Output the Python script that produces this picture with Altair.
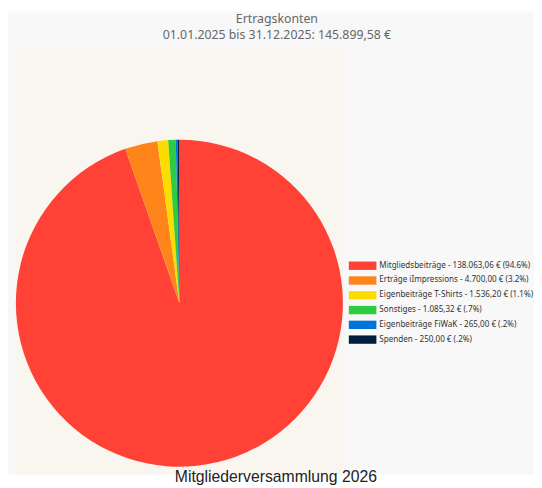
import altair as alt
import pandas as pd

# ---- data ----
categories = ["Mitgliedsbeiträge", "Erträge iImpressions", "Eigenbeiträge T-Shirts",
              "Sonstiges", "Eigenbeiträge FiWaK", "Spenden"]
amounts = [138063.06, 4700.00, 1536.20, 1085.32, 265.00, 250.00]
amount_labels = ["138.063,06 €", "4.700,00 €", "1.536,20 €", "1.085,32 €", "265,00 €", "250,00 €"]
percent_labels = ["(94.6%)", "(3.2%)", "(1.1%)", "(.7%)", "(.2%)", "(.2%)"]
colors = ["#FF4136", "#FF851B", "#FFDC00", "#2ECC40", "#0074D9", "#001F3F"]

title_text = "Ertragskonten"
subtitle_text = "01.01.2025 bis 31.12.2025: 145.899,58 €"
footer_text = "Mitgliederversammlung 2026"

legend_labels = [f"{c} - {a} {p}" for c, a, p in zip(categories, amount_labels, percent_labels)]

df = pd.DataFrame({
    "label": legend_labels,
    "value": amounts,
    "idx": list(range(len(categories))),
})
one = pd.DataFrame({"a": [0]})

W, H = 534, 480

color_scale = alt.Scale(domain=legend_labels, range=colors)
legend_y = alt.Y("idx:Q", scale=alt.Scale(domain=[0, 5], range=[258, 333]), axis=None)

bg_gray = alt.Chart(one).mark_rect(fill="#f8f8f8").encode(
    x=alt.value(0), x2=alt.value(W), y=alt.value(0), y2=alt.value(470))
bg_cream = alt.Chart(one).mark_rect(fill="#f9f6ef").encode(
    x=alt.value(7), x2=alt.value(340), y=alt.value(37), y2=alt.value(470))

pie = alt.Chart(df).mark_arc(outerRadius=166).encode(
    theta=alt.Theta("value:Q", stack=True),
    order=alt.Order("idx:Q", sort="ascending"),
    color=alt.Color("label:N", scale=color_scale, legend=None),
    x=alt.value(174), y=alt.value(296),
)

legend_sym = alt.Chart(df).mark_point(
    shape="M-1,-0.3036H1V0.3036H-1Z", size=784, filled=True, opacity=1, strokeWidth=0
).encode(
    x=alt.value(360), y=legend_y,
    color=alt.Color("label:N", scale=color_scale, legend=None),
)
legend_txt = alt.Chart(df).mark_text(
    font="Noto Sans", fontSize=8.2, color="#333333", align="left", baseline="middle"
).encode(
    x=alt.value(377), y=legend_y, text="label:N",
)

title = alt.Chart(one).mark_text(font="Noto Sans", fontSize=12.5, color="#666666",
                                 align="center", baseline="alphabetic").encode(
    x=alt.value(273), y=alt.value(12), text=alt.value(title_text))
subtitle = alt.Chart(one).mark_text(font="Noto Sans", fontSize=12.5, color="#666666",
                                    align="center", baseline="alphabetic").encode(
    x=alt.value(273), y=alt.value(28), text=alt.value(subtitle_text))
footer = alt.Chart(one).mark_text(font="Liberation Sans", fontSize=16, color="#222222",
                                  align="center", baseline="alphabetic").encode(
    x=alt.value(272), y=alt.value(478), text=alt.value(footer_text))

chart = alt.layer(bg_gray, bg_cream, pie, legend_sym, legend_txt, title, subtitle, footer).properties(
    width=W, height=H, padding=0, autosize=alt.AutoSizeParams(type="none"),
    background="white",
).configure_view(stroke=None)

chart.save("out.html", embed_options={"renderer": "svg", "actions": False})
